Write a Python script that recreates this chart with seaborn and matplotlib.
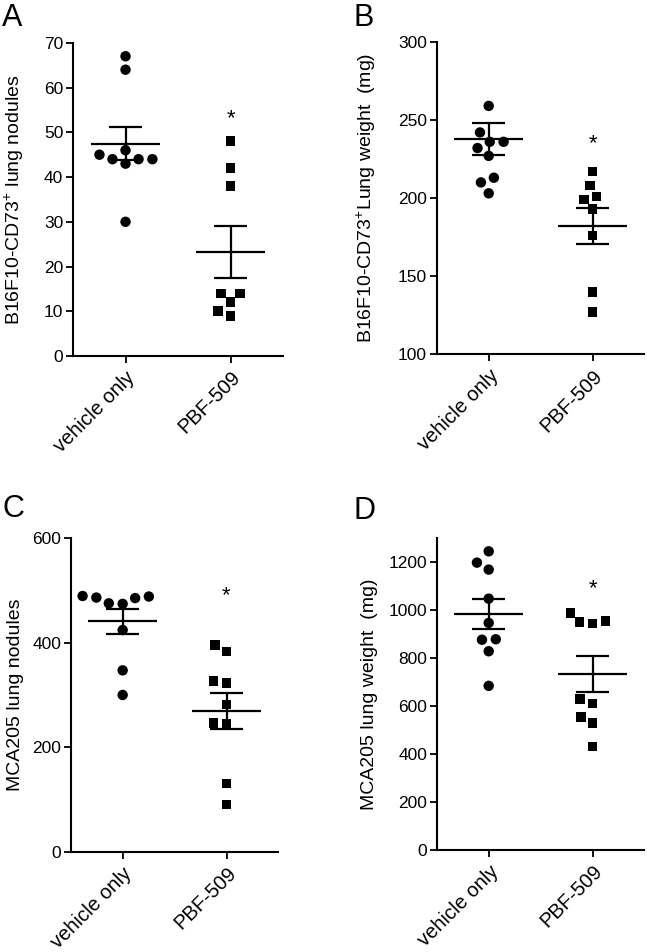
import numpy as np
import pandas as pd
import seaborn as sns
import matplotlib.pyplot as plt

# values
groups = ["vehicle only", "PBF-509"]

a_vehicle = [67, 64, 46, 44, 44, 43, 44, 45, 30]
a_pbf = [48, 42, 38, 14, 14, 12, 10, 9]
a_mean = [47.5, 23.3]
a_sem = [3.75, 5.75]

b_vehicle = [259, 242, 236, 236, 232, 227, 213, 210, 203]
b_pbf = [217, 208, 201, 199, 193, 176, 140, 127]
b_mean = [237.7, 182.3]
b_sem = [10.4, 11.6]

c_vehicle = [489, 488, 486, 485, 475, 474, 424, 347, 300]
c_pbf = [395, 383, 327, 323, 282, 246, 244, 131, 91]
c_mean = [441, 269]
c_sem = [24, 34.5]

d_vehicle = [1244, 1197, 1168, 1047, 946, 878, 876, 828, 684]
d_pbf = [988, 955, 950, 944, 628, 611, 554, 530, 431]
d_mean = [984, 733]
d_sem = [63, 74.5]

sns.set_style("ticks", {"axes.edgecolor": "black", "text.color": "black",
                        "xtick.color": "black", "ytick.color": "black",
                        "axes.labelcolor": "black"})
plt.rcParams["font.family"] = ["Liberation Sans", "DejaVu Sans"]
plt.rcParams["mathtext.fontset"] = "custom"
plt.rcParams["mathtext.rm"] = "Liberation Sans"
plt.rcParams["mathtext.default"] = "regular"


def draw_panel(ax, vehicle, pbf, mean, sem, ylabel, ylim, yticks, star_y, label_x):
    df = pd.DataFrame({
        "group": [groups[0]] * len(vehicle) + [groups[1]] * len(pbf),
        "value": list(vehicle) + list(pbf),
    })
    # invisible edge keeps some air between neighbouring points, like the original
    sns.swarmplot(data=df[df.group == groups[0]], x="group", y="value", order=groups,
                  color="black", marker="o", size=7.5, linewidth=2, edgecolor="none", ax=ax)
    sns.swarmplot(data=df[df.group == groups[1]], x="group", y="value", order=groups,
                  color="black", marker="s", size=7, linewidth=2, edgecolor="none", ax=ax)

    # mean +/- SEM
    for i, (m, s) in enumerate(zip(mean, sem)):
        ax.hlines(m, i - 0.33, i + 0.33, color="black", lw=1.6, zorder=4)
        ax.vlines(i, m - s, m + s, color="black", lw=1.6, zorder=4)
        ax.hlines([m - s, m + s], i - 0.16, i + 0.16, color="black", lw=1.6, zorder=4)

    ax.text(1, star_y, "*", ha="center", va="center", fontsize=16)

    ax.set_xlim(-0.5, 1.5)
    ax.set_ylim(*ylim)
    ax.set_yticks(yticks)
    ax.set_xlabel("")
    ax.set_ylabel(ylabel, fontsize=14)
    ax.yaxis.set_label_coords(label_x, 0.5)
    ax.tick_params(axis="y", labelsize=12.5, width=1.3, length=5, pad=2)
    ax.tick_params(axis="x", labelsize=14.5, width=1.3, length=5)
    plt.setp(ax.get_xticklabels(), rotation=45, ha="right", rotation_mode="anchor")
    for side in ["left", "bottom"]:
        ax.spines[side].set_linewidth(1.5)
    sns.despine(ax=ax)


fig = plt.figure(figsize=(6.49, 9.52), dpi=100)
ax_a = fig.add_axes([0.1125, 0.626, 0.3236, 0.329])
ax_b = fig.add_axes([0.673, 0.628, 0.32, 0.328])
ax_c = fig.add_axes([0.109, 0.105, 0.32, 0.33])
ax_d = fig.add_axes([0.673, 0.107, 0.32, 0.328])

draw_panel(ax_a, a_vehicle, a_pbf, a_mean, a_sem,
           "B16F10-CD73$^{+}$ lung nodules", (0, 70), range(0, 71, 10), 53, -0.225)
draw_panel(ax_b, b_vehicle, b_pbf, b_mean, b_sem,
           "B16F10-CD73$^{+}$Lung weight  (mg)", (100, 300), range(100, 301, 50), 235, -0.285)
draw_panel(ax_c, c_vehicle, c_pbf, c_mean, c_sem,
           "MCA205 lung nodules", (0, 600), range(0, 601, 200), 490, -0.225)
draw_panel(ax_d, d_vehicle, d_pbf, d_mean, d_sem,
           "MCA205 lung weight  (mg)", (0, 1300), range(0, 1201, 200), 1089, -0.285)

# panel letters
for x, y, letter in [(2, 3, "A"), (354, 3, "B"), (2, 494, "C"), (354, 496, "D")]:
    fig.text(x / 649, 1 - y / 952, letter, fontsize=22, ha="left", va="top")

fig.savefig("out.png", dpi=100)
